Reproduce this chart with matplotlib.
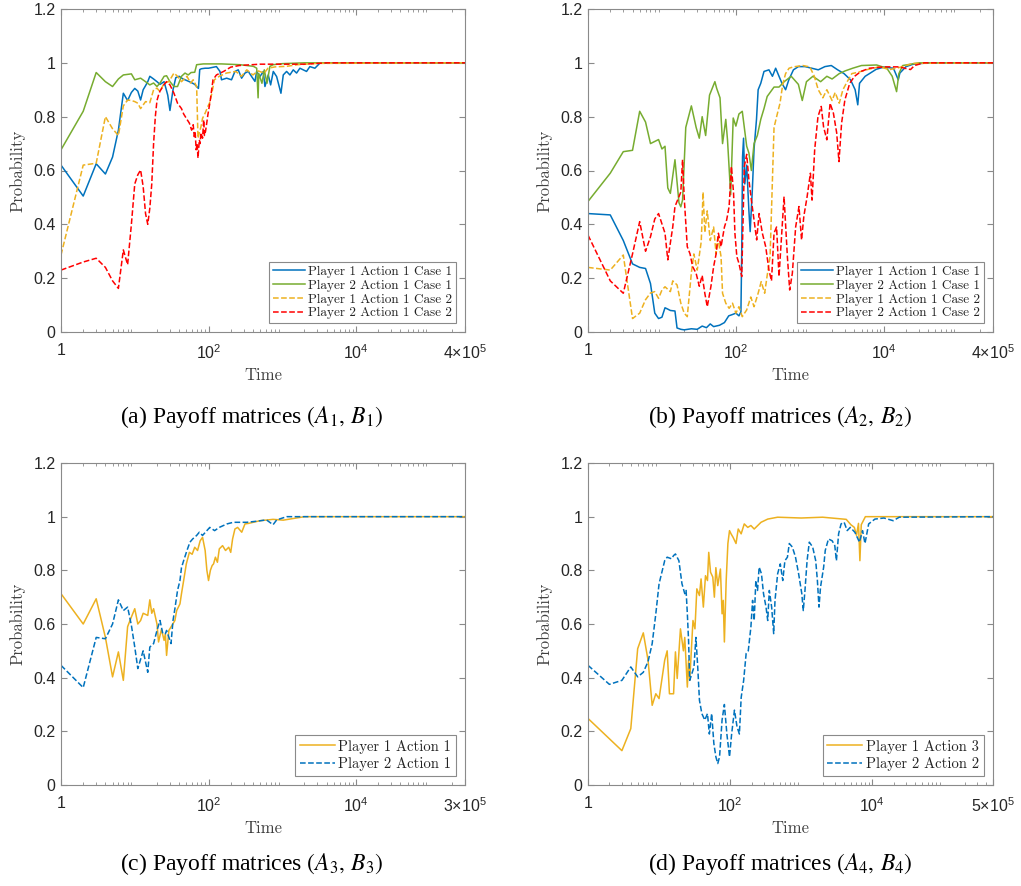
import matplotlib
matplotlib.use('Agg')
import matplotlib.pyplot as plt
from matplotlib.ticker import FixedLocator, FixedFormatter, LogLocator, NullFormatter
import numpy as np

plt.rcParams['mathtext.fontset'] = 'stix'

# ---------------- data ----------------
y_ticks = [0, 0.2, 0.4, 0.6, 0.8, 1, 1.2]
y_tick_labels = ['0', '0.2', '0.4', '0.6', '0.8', '1', '1.2']
x_ticks_main = [1, 1e2, 1e4]
x_tick_labels_main = ['1', r'$\mathregular{10^2}$', r'$\mathregular{10^4}$']

# Panel (a)
a_blue_t = [1, 2, 3, 4, 5, 6, 7, 8, 9, 10, 11, 12, 13, 14, 15, 16, 18, 20, 22, 25, 28, 30, 33, 36, 40, 45, 50,
            55, 60, 65, 70, 73, 76, 80, 90, 100, 128, 143, 150, 176, 205, 228, 253, 281, 312, 346, 384, 426,
            449, 498, 553, 582, 646, 695, 755, 838, 959, 1031, 1144, 1269, 1408, 1562, 1733, 1922, 2133,
            2366, 2767, 3236, 5000, 300000]
a_blue_p = [0.62, 0.505, 0.625, 0.587, 0.65, 0.75, 0.887, 0.86, 0.89, 0.905, 0.895, 0.862, 0.90, 0.915, 0.93,
            0.95, 0.94, 0.93, 0.92, 0.93, 0.88, 0.823, 0.90, 0.945, 0.95, 0.94, 0.935, 0.93, 0.925, 0.92, 0.91,
            0.905, 0.975, 0.978, 0.98, 0.98, 0.986, 0.968, 0.937, 0.943, 0.937, 0.968, 0.974, 0.943, 0.962,
            0.968, 0.949, 0.931, 0.968, 0.949, 0.968, 0.912, 0.955, 0.918, 0.968, 0.949, 0.887, 0.955, 0.968,
            0.955, 0.974, 0.962, 0.98, 0.974, 0.968, 0.986, 0.98, 0.999, 1.0, 1.0]

a_green_t = [1, 2, 3, 4, 5, 6, 7, 9, 10, 12, 14, 16, 18, 20, 22, 25, 27, 30, 34, 38, 43, 48, 53, 58, 65, 69,
             85, 150, 268, 406, 450, 470, 480, 530, 570, 620, 680, 750, 1000, 2000, 300000]
a_green_p = [0.677, 0.82, 0.964, 0.93, 0.912, 0.94, 0.955, 0.959, 0.937, 0.943, 0.93, 0.918, 0.925, 0.912,
             0.925, 0.95, 0.952, 0.93, 0.912, 0.912, 0.95, 0.962, 0.955, 0.964, 0.965, 0.993, 0.996, 0.996,
             0.993, 0.987, 0.98, 0.87, 0.96, 0.924, 0.974, 0.924, 0.987, 0.993, 0.997, 1.0, 1.0]

a_yellow_t = [1, 2, 3, 4, 5, 6, 7, 8, 9, 10, 11, 12, 14, 16, 18, 20, 22, 25, 29, 34, 38, 43, 51, 57, 62, 69,
              72, 75, 79, 83, 90, 98, 103, 111, 120, 140, 175, 235, 280, 330, 400, 470, 570, 640, 800, 1150,
              1600, 3000, 300000]
a_yellow_p = [0.286, 0.62, 0.627, 0.80, 0.755, 0.73, 0.84, 0.862, 0.86, 0.856, 0.85, 0.83, 0.856, 0.852, 0.90,
              0.906, 0.893, 0.925, 0.93, 0.962, 0.95, 0.93, 0.95, 0.925, 0.937, 0.912, 0.72, 0.74, 0.763, 0.794,
              0.813, 0.838, 0.85, 0.887, 0.937, 0.95, 0.962, 0.968, 0.95, 0.974, 0.955, 0.97, 0.962, 0.98,
              0.985, 0.987, 0.993, 0.998, 1.0]

a_red_t = [1, 2, 3, 4, 5, 6, 7, 8, 9, 10, 11, 12, 13, 14, 15, 16, 17, 18, 19, 20, 21, 22, 25, 27, 30, 34, 38,
           43, 46, 51, 55, 59, 62, 64, 66, 68, 70, 72, 75, 77, 79, 83, 86, 88, 91, 95, 98, 105, 115, 128, 160,
           200, 260, 500, 2000, 4000, 300000]
a_red_p = [0.23, 0.26, 0.274, 0.24, 0.19, 0.162, 0.305, 0.25, 0.40, 0.55, 0.584, 0.602, 0.54, 0.44, 0.40,
           0.46, 0.55, 0.70, 0.80, 0.86, 0.88, 0.895, 0.92, 0.93, 0.918, 0.887, 0.85, 0.83, 0.81, 0.79, 0.776,
           0.75, 0.77, 0.726, 0.74, 0.677, 0.70, 0.646, 0.714, 0.70, 0.74, 0.72, 0.788, 0.73, 0.745, 0.78,
           0.807, 0.856, 0.937, 0.955, 0.968, 0.984, 0.99, 0.995, 0.995, 1.0, 1.0]

# Panel (b)
b_blue_t = [1, 2, 3, 4, 5, 6, 7, 8, 9, 10, 11, 12, 13, 15, 16, 18, 20, 25, 30, 35, 40, 45, 50, 60, 70, 80, 90,
            100, 110, 117, 120, 123, 127, 132, 140, 150, 156, 167, 176, 190, 200, 217, 240, 280, 312, 345, 383,
            420, 470, 520, 600, 700, 860, 1060, 1300, 1600, 1950, 2380, 2900, 3550, 4100, 4450, 4700, 5600,
            6400, 7900, 10000, 13500, 15000, 15700, 16500, 20000, 25000, 40000, 300000]
b_blue_p = [0.44, 0.435, 0.34, 0.253, 0.24, 0.236, 0.18, 0.07, 0.05, 0.055, 0.09, 0.085, 0.08, 0.078, 0.015,
            0.01, 0.008, 0.012, 0.01, 0.022, 0.016, 0.03, 0.02, 0.025, 0.035, 0.06, 0.065, 0.07, 0.06, 0.075,
            0.3, 0.65, 0.72, 0.55, 0.62, 0.45, 0.373, 0.53, 0.68, 0.79, 0.90, 0.924, 0.968, 0.974, 0.95, 0.98,
            0.95, 0.924, 0.90, 0.937, 0.974, 0.986, 0.986, 0.98, 0.974, 0.986, 0.99, 0.974, 0.96, 0.937, 0.90,
            0.844, 0.924, 0.95, 0.96, 0.976, 0.984, 0.98, 0.95, 0.937, 0.962, 0.986, 0.995, 1.0, 1.0]

b_green_t = [1, 2, 3, 4, 5, 6, 7, 9, 10, 11, 12, 13, 15, 17, 18, 19, 21, 25, 29, 32, 35, 39, 44, 52, 55, 61,
             66, 73, 77, 85, 92, 100, 110, 122, 140, 150, 162, 176, 195, 217, 240, 265, 328, 383, 450, 560,
             700, 790, 900, 1100, 1400, 1700, 2000, 2500, 3000, 3800, 5000, 8000, 11000, 13000, 14900, 16000,
             18000, 30000, 300000]
b_green_p = [0.485, 0.59, 0.67, 0.675, 0.82, 0.78, 0.70, 0.715, 0.68, 0.69, 0.535, 0.515, 0.64, 0.48, 0.465,
             0.49, 0.76, 0.84, 0.76, 0.72, 0.80, 0.73, 0.88, 0.93, 0.905, 0.87, 0.70, 0.79, 0.714, 0.51, 0.795,
             0.765, 0.81, 0.82, 0.69, 0.665, 0.60, 0.70, 0.73, 0.79, 0.83, 0.875, 0.91, 0.91, 0.93, 0.95, 0.92,
             0.86, 0.93, 0.95, 0.93, 0.95, 0.94, 0.96, 0.97, 0.98, 0.99, 0.992, 0.98, 0.95, 0.893, 0.96, 0.99,
             1.0, 1.0]

b_yellow_t = [1, 2, 3, 4, 5, 6, 7, 8, 9, 10, 11, 13, 14, 16, 18, 20, 22, 25, 27, 30, 34, 36, 38, 41, 45, 50,
              54, 57, 63, 66, 73, 81, 90, 100, 110, 122, 140, 159, 176, 200, 220, 245, 265, 290, 312, 328, 363,
              395, 430, 470, 524, 600, 800, 1000, 1150, 1300, 1500, 1700, 2000, 2200, 2500, 2800, 3200, 3700,
              4500, 6000, 8700, 12000, 15000, 20000, 25000, 300000]
b_yellow_p = [0.24, 0.23, 0.286, 0.05, 0.07, 0.12, 0.145, 0.15, 0.125, 0.156, 0.168, 0.15, 0.19, 0.175, 0.107,
              0.07, 0.057, 0.22, 0.29, 0.23, 0.336, 0.52, 0.37, 0.45, 0.34, 0.39, 0.29, 0.35, 0.28, 0.144,
              0.107, 0.088, 0.107, 0.07, 0.094, 0.057, 0.082, 0.13, 0.094, 0.144, 0.187, 0.144, 0.21, 0.28,
              0.565, 0.76, 0.81, 0.85, 0.92, 0.96, 0.98, 0.985, 0.99, 0.985, 0.95, 0.90, 0.87, 0.90, 0.86, 0.89,
              0.85, 0.90, 0.93, 0.96, 0.965, 0.975, 0.985, 0.975, 0.98, 0.99, 0.998, 1.0]

b_red_t = [1, 2, 3, 4, 5, 6, 7, 8, 9, 11, 12, 14, 15, 18, 19, 20, 22, 24, 26, 29, 32, 35, 38, 41, 46, 50, 54,
           58, 63, 70, 75, 81, 87, 93, 97, 103, 110, 120, 130, 140, 150, 162, 176, 191, 206, 228, 253, 280,
           303, 328, 355, 383, 448, 497, 534, 580, 643, 713, 773, 830, 919, 1018, 1071, 1163, 1288, 1427,
           1532, 1697, 1880, 2083, 2307, 2478, 2688, 2978, 3463, 4026, 4912, 6400, 10000, 16000, 23000,
           26000, 35000, 300000]
b_red_p = [0.36, 0.19, 0.144, 0.29, 0.41, 0.30, 0.354, 0.42, 0.44, 0.367, 0.268, 0.39, 0.466, 0.52, 0.64, 0.50,
           0.317, 0.29, 0.243, 0.218, 0.17, 0.21, 0.144, 0.094, 0.17, 0.243, 0.29, 0.367, 0.317, 0.39, 0.416,
           0.466, 0.615, 0.516, 0.367, 0.28, 0.255, 0.206, 0.615, 0.66, 0.565, 0.49, 0.416, 0.342, 0.44, 0.367,
           0.317, 0.23, 0.19, 0.367, 0.39, 0.206, 0.503, 0.28, 0.156, 0.218, 0.39, 0.466, 0.342, 0.43, 0.503,
           0.59, 0.49, 0.677, 0.80, 0.838, 0.763, 0.714, 0.85, 0.813, 0.74, 0.633, 0.776, 0.862, 0.924, 0.95,
           0.968, 0.98, 0.985, 0.985, 0.975, 0.99, 1.0, 1.0]

# Panel (c)
c_yellow_t = [1, 2, 3, 4, 5, 6, 7, 8, 9, 10, 11, 12, 13, 15, 16, 17, 18, 20, 21, 23, 25, 26, 27, 29, 31, 35,
              37, 41, 43, 46, 50, 55, 60, 65, 71, 77, 83, 90, 95, 100, 106, 112, 117, 124, 132, 140, 155, 170,
              188, 200, 212, 228, 248, 282, 312, 350, 500, 750, 1030, 2000, 300000]
c_yellow_p = [0.713, 0.60, 0.694, 0.55, 0.403, 0.496, 0.39, 0.59, 0.626, 0.657, 0.60, 0.613, 0.64, 0.632, 0.69,
              0.64, 0.657, 0.60, 0.533, 0.58, 0.539, 0.564, 0.483, 0.576, 0.589, 0.613, 0.65, 0.675, 0.713,
              0.762, 0.824, 0.867, 0.86, 0.886, 0.874, 0.91, 0.923, 0.874, 0.80, 0.762, 0.80, 0.818, 0.824,
              0.849, 0.83, 0.88, 0.892, 0.874, 0.886, 0.867, 0.917, 0.954, 0.96, 0.942, 0.973, 0.975, 0.985,
              0.99, 0.987, 1.0, 1.0]

c_blue_t = [1, 2, 3, 4, 5, 6, 7, 8, 9, 10, 11, 13, 15, 16, 18, 20, 22, 24, 26, 27, 31, 33, 35, 38, 41, 43, 46,
            51, 56, 61, 69, 75, 83, 95, 104, 121, 140, 178, 217, 328, 450, 610, 750, 840, 1150, 300000]
c_blue_p = [0.446, 0.363, 0.55, 0.545, 0.60, 0.69, 0.65, 0.663, 0.595, 0.514, 0.434, 0.50, 0.42, 0.514, 0.527,
            0.576, 0.613, 0.564, 0.564, 0.576, 0.527, 0.613, 0.657, 0.725, 0.762, 0.81, 0.836, 0.874, 0.905,
            0.917, 0.93, 0.942, 0.93, 0.948, 0.96, 0.948, 0.96, 0.973, 0.979, 0.979, 0.983, 0.988, 0.97,
            0.988, 1.0, 1.0]

# Panel (d)
d_yellow_t = [1, 3, 4, 5, 6, 7, 8, 9, 10, 12, 13, 14, 16, 17, 18, 20, 22, 23, 25, 26, 27, 30, 32, 34, 37, 39,
              42, 45, 48, 50, 53, 57, 60, 63, 67, 73, 77, 80, 83, 88, 93, 98, 103, 110, 121, 130, 143, 158,
              177, 196, 218, 272, 338, 466, 1000, 2000, 4300, 5000, 5600, 6000, 6400, 6700, 7000, 8000,
              500000]
d_yellow_p = [0.248, 0.128, 0.21, 0.508, 0.567, 0.465, 0.297, 0.34, 0.322, 0.465, 0.50, 0.34, 0.34, 0.496,
              0.397, 0.582, 0.50, 0.55, 0.365, 0.465, 0.39, 0.613, 0.582, 0.731, 0.706, 0.768, 0.663, 0.78,
              0.762, 0.867, 0.793, 0.775, 0.70, 0.81, 0.743, 0.805, 0.638, 0.688, 0.533, 0.762, 0.90, 0.948,
              0.936, 0.923, 0.90, 0.954, 0.936, 0.973, 0.96, 0.967, 0.954, 0.979, 0.991, 0.998, 0.995, 0.998,
              0.99, 0.97, 0.96, 0.93, 0.975, 0.836, 0.97, 1.0, 1.0]

d_blue_t = [1, 2, 3, 4, 5, 6, 7, 8, 9, 10, 12, 13, 15, 16, 17, 19, 21, 23, 24, 25, 26, 27, 28, 31, 33, 35, 37,
            40, 44, 48, 51, 55, 59, 63, 67, 71, 77, 83, 90, 98, 105, 115, 125, 135, 143, 155, 168, 180, 196,
            207, 218, 230, 243, 256, 276, 295, 320, 338, 356, 384, 410, 428, 466, 508, 550, 590, 640, 680,
            750, 830, 920, 1020, 1070, 1130, 1210, 1300, 1450, 1600, 1690, 1780, 1870, 2070, 2180, 2420,
            2730, 2970, 3130, 3360, 3640, 4020, 4440, 4900, 5690, 6600, 7300, 7900, 8900, 10900, 14600,
            19700, 24000, 500000]
d_blue_p = [0.446, 0.375, 0.39, 0.44, 0.403, 0.42, 0.46, 0.527, 0.638, 0.75, 0.836, 0.849, 0.843, 0.855,
            0.861, 0.836, 0.75, 0.713, 0.725, 0.638, 0.539, 0.39, 0.403, 0.44, 0.55, 0.44, 0.316, 0.266,
            0.242, 0.266, 0.19, 0.266, 0.155, 0.105, 0.08, 0.105, 0.242, 0.30, 0.19, 0.105, 0.19, 0.279,
            0.217, 0.19, 0.326, 0.39, 0.49, 0.50, 0.589, 0.688, 0.613, 0.762, 0.725, 0.812, 0.787, 0.713,
            0.663, 0.613, 0.725, 0.663, 0.564, 0.688, 0.787, 0.824, 0.762, 0.836, 0.849, 0.90, 0.887, 0.85,
            0.787, 0.713, 0.65, 0.725, 0.836, 0.905, 0.887, 0.836, 0.762, 0.663, 0.737, 0.812, 0.874, 0.917,
            0.91, 0.892, 0.836, 0.936, 0.973, 0.979, 0.948, 0.96, 0.942, 0.905, 0.948, 0.90, 0.973, 0.991,
            0.995, 0.985, 0.998, 1.0]

# ---------------- style ----------------
BLUE = '#0072BD'
GREEN = '#77AC30'
YELLOW = '#EDB120'
RED = '#FF0000'
FW, FH = 1021, 886

fig = plt.figure(figsize=(FW / 100, FH / 100), dpi=100)


def make_axes(left, top, right, bottom):
    return fig.add_axes([left / FW, 1 - bottom / FH, (right - left) / FW, (bottom - top) / FH])


def style(ax, xmax, xmax_label):
    ax.set_xscale('log')
    ax.set_xlim(1, xmax)
    ax.set_ylim(0, 1.2)
    ax.xaxis.set_major_locator(FixedLocator(x_ticks_main + [xmax]))
    ax.xaxis.set_major_formatter(FixedFormatter(x_tick_labels_main + [xmax_label]))
    ax.xaxis.set_minor_locator(LogLocator(base=10, subs=np.arange(2, 10), numticks=30))
    ax.xaxis.set_minor_formatter(NullFormatter())
    ax.yaxis.set_major_locator(FixedLocator(y_ticks))
    ax.yaxis.set_major_formatter(FixedFormatter(y_tick_labels))
    ax.tick_params(which='both', direction='in', top=True, right=True, color='#8a8a8a',
                   labelcolor='#262626')
    ax.tick_params(which='major', length=4, width=0.8, labelsize=11.5)
    ax.tick_params(axis='x', which='major', pad=8)
    ax.tick_params(axis='y', which='major', pad=4)
    ax.tick_params(which='minor', length=2.2, width=0.6)
    for lab in ax.get_xticklabels() + ax.get_yticklabels():
        lab.set_family('Liberation Sans')
    for s in ax.spines.values():
        s.set_color('#8a8a8a')
        s.set_linewidth(0.8)
    ax.set_xlabel('Time', family='cmr10', fontsize=12, color='#404040')
    ax.set_ylabel('Probability', family='cmr10', fontsize=12, color='#404040')
    ax.xaxis.set_label_coords(0.5, -0.112)
    ax.yaxis.set_label_coords(-0.088, 0.5)


def legend(ax, size, spacing):
    leg = ax.legend(loc='lower right', prop={'family': 'cmr10', 'size': size}, frameon=True,
                    fancybox=False, edgecolor='#8a8a8a', framealpha=1, borderaxespad=0.65,
                    handlelength=2.4, handletextpad=0.25, labelspacing=spacing, borderpad=0.3)
    leg.get_frame().set_linewidth(0.8)
    for t in leg.get_texts():
        t.set_color('#222222')


LW = 1.1

# (a)
ax = make_axes(61, 9, 465, 332)
ax.plot(a_blue_t, a_blue_p, color=BLUE, lw=LW, label='Player 1 Action 1 Case 1')
ax.plot(a_green_t, a_green_p, color=GREEN, lw=LW, label='Player 2 Action 1 Case 1')
ax.plot(a_yellow_t, a_yellow_p, color=YELLOW, lw=LW, ls='--', label='Player 1 Action 1 Case 2')
ax.plot(a_red_t, a_red_p, color=RED, lw=LW, ls='--', label='Player 2 Action 1 Case 2')
style(ax, 3e5, r'$\mathregular{4{\times}10^5}$')
legend(ax, 9.5, 0.12)

# (b)
ax = make_axes(588, 9, 993, 332)
ax.plot(b_blue_t, b_blue_p, color=BLUE, lw=LW, label='Player 1 Action 1 Case 1')
ax.plot(b_green_t, b_green_p, color=GREEN, lw=LW, label='Player 2 Action 1 Case 1')
ax.plot(b_yellow_t, b_yellow_p, color=YELLOW, lw=LW, ls='--', label='Player 1 Action 1 Case 2')
ax.plot(b_red_t, b_red_p, color=RED, lw=LW, ls='--', label='Player 2 Action 1 Case 2')
style(ax, 3e5, r'$\mathregular{4{\times}10^5}$')
legend(ax, 9.5, 0.12)

# (c)
ax = make_axes(61, 463, 465, 785)
ax.plot(c_yellow_t, c_yellow_p, color=YELLOW, lw=LW, label='Player 1 Action 1')
ax.plot(c_blue_t, c_blue_p, color=BLUE, lw=LW, ls='--', label='Player 2 Action 1')
style(ax, 3e5, r'$\mathregular{3{\times}10^5}$')
legend(ax, 10.5, 0.25)

# (d)
ax = make_axes(588, 463, 993, 785)
ax.plot(d_yellow_t, d_yellow_p, color=YELLOW, lw=LW, label='Player 1 Action 3')
ax.plot(d_blue_t, d_blue_p, color=BLUE, lw=LW, ls='--', label='Player 2 Action 2')
style(ax, 5e5, r'$\mathregular{5{\times}10^5}$')
legend(ax, 10.5, 0.25)

captions = [(252, 417, r'(a) Payoff matrices $(A_1,\,B_1)$'),
            (780, 417, r'(b) Payoff matrices $(A_2,\,B_2)$'),
            (252, 864, r'(c) Payoff matrices $(A_3,\,B_3)$'),
            (780, 864, r'(d) Payoff matrices $(A_4,\,B_4)$')]
for cx, cy, txt in captions:
    fig.text(cx / FW, 1 - cy / FH, txt, ha='center', va='center', fontsize=17,
             family='Liberation Serif', color='black')

fig.savefig('out.png', dpi=100)
